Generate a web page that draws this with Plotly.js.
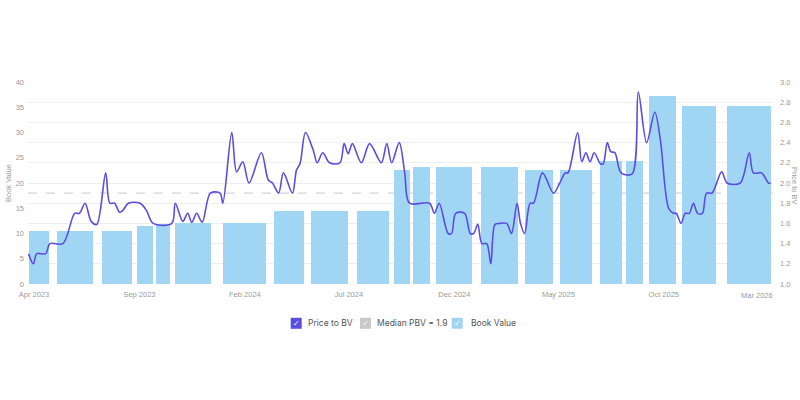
<!DOCTYPE html>
<html>
<head>
<meta charset="utf-8">
<script src="https://cdn.plot.ly/plotly-3.0.1.min.js"></script>
<style>html,body{margin:0;padding:0;background:#fff}#chart{width:800px;height:400px}</style>
</head>
<body>
<div id="chart"></div>
<script>
// ---- Price to book value (right axis) ----
const pbvDates = ['2023-03-24','2023-03-31','2023-04-05','2023-04-18','2023-04-24','2023-05-13','2023-05-30','2023-06-06','2023-06-14','2023-06-23','2023-07-01','2023-07-14','2023-07-20','2023-07-27','2023-08-03','2023-08-08','2023-08-16','2023-09-02','2023-09-11','2023-09-21','2023-10-18','2023-10-23','2023-11-03','2023-11-10','2023-11-16','2023-11-23','2023-12-01','2023-12-13','2023-12-27','2023-12-31','2024-01-13','2024-01-20','2024-01-29','2024-02-07','2024-02-25','2024-03-06','2024-03-12','2024-03-21','2024-03-28','2024-04-10','2024-04-16','2024-04-21','2024-04-29','2024-05-10','2024-05-16','2024-05-24','2024-06-03','2024-06-18','2024-06-24','2024-06-30','2024-07-06','2024-07-19','2024-07-31','2024-08-17','2024-08-25','2024-09-01','2024-09-12','2024-09-20','2024-09-27','2024-10-26','2024-11-02','2024-11-09','2024-11-22','2024-11-27','2024-12-03','2024-12-16','2024-12-24','2024-12-29','2025-01-04','2025-01-10','2025-01-17','2025-01-23','2025-01-29','2025-02-05','2025-02-15','2025-02-22','2025-03-02','2025-03-07','2025-03-13','2025-03-21','2025-03-26','2025-04-08','2025-04-24','2025-05-03','2025-05-11','2025-05-15','2025-05-29','2025-06-04','2025-06-10','2025-06-16','2025-06-22','2025-07-01','2025-07-05','2025-07-11','2025-07-16','2025-07-22','2025-07-31','2025-08-16','2025-08-25','2025-09-06','2025-09-18','2025-09-26','2025-10-08','2025-10-15','2025-10-19','2025-10-26','2025-11-01','2025-11-07','2025-11-13','2025-11-19','2025-11-26','2025-12-02','2025-12-10','2025-12-24','2026-01-01','2026-01-20','2026-02-02','2026-02-08','2026-02-20','2026-03-02','2026-03-05'];
const pbvValues = [1.30,1.20,1.30,1.30,1.40,1.40,1.70,1.70,1.80,1.62,1.59,2.10,1.80,1.80,1.71,1.73,1.80,1.80,1.73,1.60,1.60,1.80,1.62,1.70,1.61,1.70,1.61,1.90,1.90,1.80,2.50,2.11,2.21,2.00,2.30,2.03,2.00,1.90,2.10,1.90,2.13,2.19,2.50,2.33,2.20,2.30,2.20,2.20,2.39,2.29,2.39,2.20,2.39,2.20,2.39,2.20,2.40,2.10,1.80,1.80,1.70,1.80,1.50,1.50,1.70,1.70,1.50,1.50,1.59,1.40,1.40,1.20,1.59,1.60,1.60,1.50,1.80,1.60,1.50,1.80,1.80,2.10,1.90,2.00,2.10,2.10,2.50,2.21,2.30,2.21,2.30,2.19,2.19,2.40,2.31,2.30,2.10,2.09,2.90,2.40,2.70,2.43,1.75,1.70,1.70,1.60,1.70,1.70,1.80,1.70,1.70,1.90,1.90,2.11,2.00,2.00,2.30,2.10,2.10,2.00,2.00];
const medianPBV = 1.9;

// ---- Book value per reporting period (left axis) ----
const bvStart = ['2023-03-25','2023-05-04','2023-07-09','2023-08-28','2023-09-25','2023-10-22','2023-12-31','2024-03-14','2024-05-07','2024-07-13','2024-09-04','2024-10-02','2024-11-05','2025-01-09','2025-03-13','2025-05-04','2025-07-01','2025-08-07','2025-09-10','2025-10-28','2026-01-01'];
const bvEnd   = ['2023-04-23','2023-06-26','2023-08-21','2023-09-20','2023-10-16','2023-12-14','2024-03-03','2024-04-27','2024-06-30','2024-08-28','2024-09-27','2024-10-27','2024-12-26','2025-03-03','2025-04-23','2025-06-19','2025-08-02','2025-09-01','2025-10-18','2025-12-16','2026-03-06'];
const bookValue = [10.5,10.5,10.5,11.5,11.9,12.0,12.0,14.5,14.5,14.5,22.6,23.2,23.2,23.2,22.6,22.6,24.4,24.4,37.2,35.3,35.3];

const xTickLabels = ['Apr 2023','Sep 2023','Feb 2024','Jul 2024','Dec 2024','May 2025','Oct 2025','Mar 2026'];
const xTickDates  = ['2023-04-01','2023-09-01','2024-02-01','2024-07-01','2024-12-01','2025-05-01','2025-10-01','2026-03-01'];

const LINE = '#5b4de0', BAR = '#a0d6f4', MED = '#c9c9c9', GRID = '#eeeeee', TICK = '#9a9a9a';

const ms = s => new Date(s + 'T00:00:00Z').getTime();
const fmt = t => new Date(t).toISOString().slice(0,19).replace('T',' ');
const barX = bvStart.map((s,i) => fmt((ms(s) + ms(bvEnd[i])) / 2));
const barW = bvStart.map((s,i) => ms(bvEnd[i]) - ms(s));

const traces = [
  {type:'bar', name:'Book Value', x:barX, y:bookValue, width:barW, yaxis:'y',
   marker:{color:BAR, line:{width:0}}, hoverinfo:'skip'},
  {type:'scatter', mode:'lines', name:'Price to BV', x:pbvDates, y:pbvValues, yaxis:'y2',
   line:{color:LINE, width:1.6, shape:'spline', smoothing:0.9}, hoverinfo:'skip'}
];

const tickFont = {family:'Liberation Sans, Arial, sans-serif', size:7.5, color:TICK};
const legFont = {family:'Inter, sans-serif', size:8.5, color:'#555'};

function legendItem(xBox, color, label, xText){
  return {
    shape:{type:'rect', xref:'paper', yref:'paper', xsizemode:'pixel', ysizemode:'pixel',
           xanchor:0, yanchor:0, x0:xBox, x1:xBox+11, y0:-44.8, y1:-33.8,
           fillcolor:color, line:{width:0}, layer:'above'},
    anns:[
      {xref:'paper', yref:'paper', x:0, y:0, xshift:xBox+5.5, yshift:-39.3, text:'✓', showarrow:false,
       xanchor:'center', yanchor:'middle', font:{family:'DejaVu Sans', size:8, color:'#ffffff'}},
      {xref:'paper', yref:'paper', x:0, y:0, xshift:xText, yshift:-39.3, text:label, showarrow:false,
       xanchor:'left', yanchor:'middle', font:legFont}
    ]
  };
}
const items = [
  legendItem(262.7, LINE, 'Price to BV', 277.5),
  legendItem(332, MED, 'Median PBV = ' + medianPBV, 346.8),
  legendItem(423.7, BAR, 'Book Value', 440.5)
];

const lastIdx = xTickLabels.length - 1;
const shownTickText = xTickLabels.map((t,i) => i === lastIdx ? '' : t);

const layout = {
  width:800, height:400,
  margin:{l:28, r:27, t:82, b:116},
  paper_bgcolor:'#fff', plot_bgcolor:'#fff',
  showlegend:false,
  bargap:0,
  xaxis:{type:'date', range:['2023-03-23 06:00','2026-03-08 12:00'],
         tickvals:xTickDates, ticktext:shownTickText, showgrid:false, zeroline:false,
         showline:false, ticks:'', tickfont:tickFont, ticklabelstandoff:4},
  yaxis:{range:[0,40], dtick:5, tick0:0, showgrid:false, zeroline:false, showline:false,
         ticks:'', tickfont:tickFont, ticklabelstandoff:3},
  yaxis2:{range:[1,3], dtick:0.2, tick0:1, tickformat:'.1f', overlaying:'y', side:'right',
          showgrid:true, gridcolor:GRID, gridwidth:1, zeroline:false, showline:false,
          ticks:'', tickfont:tickFont, ticklabelstandoff:6},
  shapes:[
    {type:'line', xref:'paper', yref:'y2', x0:0, x1:1, y0:medianPBV, y1:medianPBV,
     line:{color:MED, width:1, dash:'dash'}, layer:'below'}
  ].concat(items.map(it => it.shape)),
  annotations:[
    {xref:'paper', yref:'paper', x:0, y:0.5, xshift:-20, text:'Book Value', textangle:-90,
     showarrow:false, xanchor:'center', yanchor:'middle',
     font:{family:'Liberation Sans, Arial, sans-serif', size:7.5, color:TICK}},
    {xref:'paper', yref:'paper', x:1, y:0.5, xshift:22, yshift:-3, text:'Price to BV', textangle:90,
     showarrow:false, xanchor:'center', yanchor:'middle',
     font:{family:'Liberation Sans, Arial, sans-serif', size:7.5, color:TICK}},
    {xref:'x', yref:'paper', x:xTickDates[lastIdx], y:0, yshift:-5, text:xTickLabels[lastIdx],
     showarrow:false, xanchor:'right', yanchor:'top', xshift:7, font:tickFont}
  ].concat(...items.map(it => it.anns))
};

Plotly.newPlot('chart', traces, layout, {displayModeBar:false, staticPlot:true});
</script>
</body>
</html>
